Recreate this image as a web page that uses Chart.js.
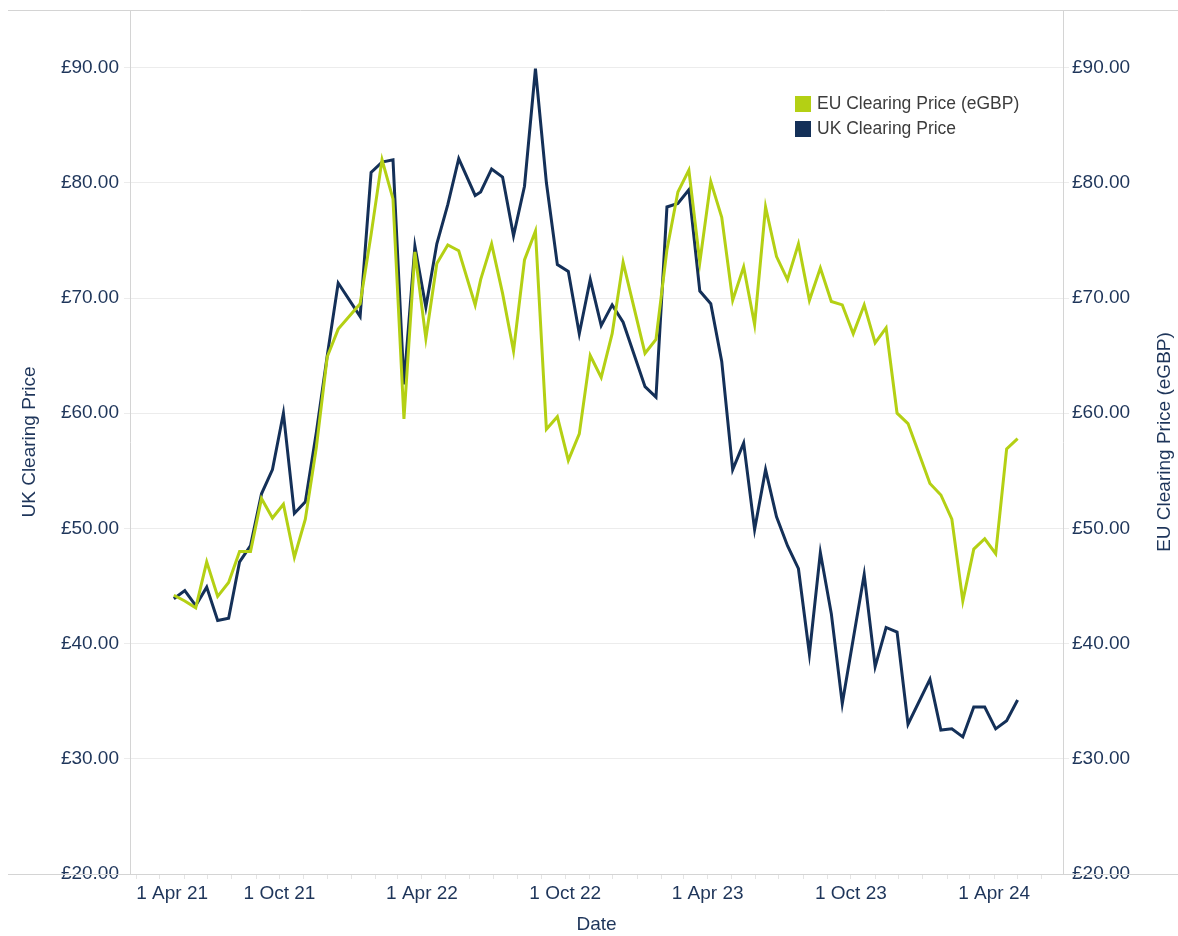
<!DOCTYPE html>
<html>
<head>
<meta charset="utf-8">
<title>UK vs EU Clearing Price</title>
<script src="https://cdn.jsdelivr.net/npm/chart.js@4.4.1/dist/chart.umd.min.js"></script>
<style>
  body{margin:0;background:#fff;}
  #wrap{position:relative;width:1178px;height:936px;}
  .legend{position:absolute;left:795px;top:91px;font:17.5px 'Liberation Sans',Arial,sans-serif;color:#3d3d3d;}
  .legend div{display:flex;align-items:center;height:25px;white-space:nowrap;}
  .legend span{display:inline-block;width:16px;height:16px;margin-right:6px;}
</style>
</head>
<body>
<div id="wrap">
  <canvas id="priceChart" width="1178" height="936"></canvas>
  <div class="legend">
    <div><span style="background:#b4d014"></span>EU Clearing Price (eGBP)</div>
    <div><span style="background:#143058"></span>UK Clearing Price</div>
  </div>
</div>
<script>
// auction dates and clearing prices (GBP)
const auctionDates=["2021-05-19","2021-06-02","2021-06-16","2021-06-30","2021-07-14","2021-07-28","2021-08-11","2021-08-25",
  "2021-09-08","2021-09-22","2021-10-06","2021-10-20","2021-11-03","2021-11-17","2021-12-01","2021-12-15",
  "2022-01-12","2022-01-26","2022-02-09","2022-02-23","2022-03-09","2022-03-23","2022-04-06","2022-04-20",
  "2022-05-04","2022-05-18","2022-06-08","2022-06-15","2022-06-29","2022-07-13","2022-07-27","2022-08-10",
  "2022-08-24","2022-09-07","2022-09-21","2022-10-05","2022-10-19","2022-11-02","2022-11-16","2022-11-30",
  "2022-12-14","2023-01-11","2023-01-25","2023-02-08","2023-02-22","2023-03-08","2023-03-22","2023-04-05",
  "2023-04-19","2023-05-03","2023-05-17","2023-05-31","2023-06-14","2023-06-28","2023-07-12","2023-07-26",
  "2023-08-09","2023-08-23","2023-09-06","2023-09-20","2023-10-04","2023-10-18","2023-11-01","2023-11-15",
  "2023-11-29","2023-12-13","2024-01-10","2024-01-24","2024-02-07","2024-02-21","2024-03-06","2024-03-20",
  "2024-04-03","2024-04-17","2024-05-01"];

const ukPrice=[43.9,44.6,43.3,44.9,42.0,42.2,47.1,48.5,
  53.0,55.1,60.0,51.3,52.3,58.3,65.0,71.3,
  68.4,80.9,81.8,82.0,62.5,74.5,69.2,74.7,
  78.1,82.1,78.9,79.2,81.2,80.5,75.4,79.7,
  89.9,80.0,72.9,72.3,66.9,71.6,67.6,69.4,
  67.9,62.3,61.4,77.9,78.2,79.4,70.6,69.5,
  64.5,55.1,57.4,49.9,55.1,51.0,48.5,46.5,
  39.1,47.9,42.6,34.8,40.4,46.0,38.0,41.4,
  41.0,33.0,36.9,32.5,32.6,31.9,34.5,34.5,
  32.6,33.3,35.1];

const euPrice=[44.2,43.7,43.1,47.1,44.1,45.3,48.0,48.0,
  52.6,50.9,52.1,47.5,50.8,57.0,64.9,67.3,
  69.5,75.5,82.0,78.6,59.5,74.0,66.5,73.0,
  74.6,74.1,69.4,71.6,74.7,70.4,65.4,73.3,
  75.8,58.6,59.7,55.9,58.2,65.0,63.1,66.9,
  73.1,65.2,66.4,74.2,79.2,81.1,73.1,80.1,
  77.0,69.8,72.7,67.7,77.9,73.6,71.6,74.7,
  69.8,72.6,69.7,69.4,66.9,69.4,66.1,67.4,
  60.0,59.1,53.9,52.9,50.8,43.7,48.2,49.1,
  47.8,56.9,57.8];

const axisStart="2021-03-24", axisEnd="2024-06-28";
const monthNames=["Jan","Feb","Mar","Apr","May","Jun","Jul","Aug","Sep","Oct","Nov","Dec"];

const GREEN="#b4d014", NAVY="#143058", TEXT="#1e355a", LINE="#d4d4d4", GRID="#ececec";
const FONT="'Liberation Sans', Arial, sans-serif";

function toMs(s){const p=s.split("-");return Date.UTC(+p[0],+p[1]-1,+p[2]);}
function points(values){return values.map((v,i)=>({x:toMs(auctionDates[i]),y:v}));}
function pounds(v){return "£"+Number(v).toFixed(2);}

// frame lines across the full width plus the rotated right axis title
const framePlugin={
  id:"frame",
  afterDraw(chart){
    const {ctx,chartArea:a}=chart;
    ctx.save();
    ctx.strokeStyle=LINE;ctx.lineWidth=1;
    ctx.beginPath();
    ctx.moveTo(8,a.top+0.5);ctx.lineTo(chart.width,a.top+0.5);
    ctx.moveTo(8,a.bottom+0.5);ctx.lineTo(chart.width,a.bottom+0.5);
    ctx.stroke();
    ctx.translate(1165,(a.top+a.bottom)/2);
    ctx.rotate(-Math.PI/2);
    ctx.fillStyle=TEXT;ctx.font="19px "+FONT;
    ctx.textAlign="center";ctx.textBaseline="middle";
    ctx.fillText("EU Clearing Price (eGBP)",0,0);
    ctx.restore();
  }
};

// price axes: fixed width, no extra room reserved above/below for labels
function fitPriceAxis(width){
  return s=>{s.width=width;s.paddingTop=0;s.paddingBottom=0;};
}

new Chart(document.getElementById("priceChart"),{
  type:"line",
  data:{
    datasets:[
      {label:"EU Clearing Price (eGBP)",data:points(euPrice),yAxisID:"y1",
       borderColor:GREEN,backgroundColor:GREEN,borderWidth:3,pointRadius:0,tension:0},
      {label:"UK Clearing Price",data:points(ukPrice),yAxisID:"y",
       borderColor:NAVY,backgroundColor:NAVY,borderWidth:3,pointRadius:0,tension:0}
    ]
  },
  options:{
    responsive:false,
    animation:false,
    layout:{padding:{top:10,left:0,right:0,bottom:0}},
    plugins:{legend:{display:false},tooltip:{enabled:false}},
    scales:{
      x:{
        type:"linear",
        min:toMs(axisStart),max:toMs(axisEnd),
        afterFit(s){s.height=62;},
        afterBuildTicks(s){
          const ticks=[];
          for(let y=2021;y<=2024;y++)for(let m=0;m<12;m++){
            const t=Date.UTC(y,m,1);
            if(t>=s.min&&t<=s.max)ticks.push({value:t});
          }
          s.ticks=ticks;
        },
        ticks:{
          autoSkip:false,maxRotation:0,align:"inner",padding:3,
          color:TEXT,font:{size:19,family:FONT},
          callback(v){
            const d=new Date(v),m=d.getUTCMonth();
            if(m!==3&&m!==9)return "";
            return "1 "+monthNames[m]+" "+String(d.getUTCFullYear()).slice(2);
          }
        },
        grid:{drawOnChartArea:false,tickLength:5,color:"#e4e4e4"},
        border:{color:LINE},
        title:{display:true,text:"Date",color:TEXT,font:{size:19,family:FONT},padding:{top:0,bottom:0}}
      },
      y:{
        position:"left",min:20,max:95,
        afterFit:fitPriceAxis(130),
        ticks:{stepSize:10,includeBounds:false,padding:5,color:TEXT,font:{size:19,family:FONT},callback:pounds},
        grid:{color:GRID,tickLength:6},
        border:{color:LINE},
        title:{display:true,text:"UK Clearing Price",color:TEXT,font:{size:19,family:FONT},padding:{top:18,bottom:0}}
      },
      y1:{
        position:"right",min:20,max:95,
        afterFit:fitPriceAxis(115),
        ticks:{stepSize:10,includeBounds:false,padding:3,color:TEXT,font:{size:19,family:FONT},callback:pounds},
        grid:{drawOnChartArea:false,color:GRID,tickLength:6},
        border:{color:LINE}
      }
    }
  },
  plugins:[framePlugin]
});
</script>
</body>
</html>
